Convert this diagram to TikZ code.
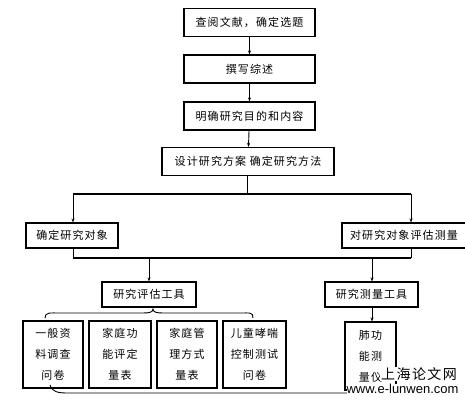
\documentclass[tikz,border=0pt]{standalone}
\usepackage{fontspec}
\newfontfamily\cjk[LetterSpace=10]{Noto Sans CJK SC}
\newfontfamily\wm{Liberation Sans}
\usetikzlibrary{arrows.meta}
\begin{document}
\begin{tikzpicture}[x=1pt,y=-1pt,
  box/.style={draw,line width=1.1pt,minimum height=28pt,inner sep=0pt,font=\cjk\fontsize{11}{13}\selectfont},
  tall/.style={draw,line width=1.1pt,minimum height=67pt,inner sep=0pt,align=center,font=\cjk\fontsize{11}{21}\selectfont},
  conn/.style={line width=0.9pt,-{Stealth[length=4pt,width=3pt]}},
  bar/.style={line width=1.6pt},
  plain/.style={line width=0.9pt}]
\useasboundingbox (0,0) rectangle (465,401);
\node[box,minimum width=131pt] (b1) at (249.5,22.5) {查阅文献，确定选题};
\node[box,minimum width=131pt] (b2) at (249.5,69) {撰写综述};
\node[box,minimum width=131pt] (b3) at (249.5,116) {明确研究目的和内容};
\node[box,minimum width=172pt] (b4) at (248,161.5) {设计研究方案\ 确定研究方法};
\node[box,minimum width=92pt,minimum height=25pt] (b5) at (72,235.5) {确定研究对象};
\node[box,minimum width=124pt,minimum height=25pt] (b6) at (404,235.5) {对研究对象评估测量};
\node[box,minimum width=94pt,minimum height=25pt] (b7) at (149,294.5) {研究评估工具};
\node[box,minimum width=93pt,minimum height=25pt] (b8) at (371.5,294.5) {研究测量工具};
\node[tall,minimum width=60pt] (c1) at (53,354.5) {一般资\\料调查\\问卷};
\node[tall,minimum width=62pt] (c2) at (120,354.5) {家庭功\\能评定\\量表};
\node[tall,minimum width=60pt] (c3) at (187,354.5) {家庭管\\理方式\\量表};
\node[tall,minimum width=63pt] (c4) at (254.5,354.5) {儿童哮喘\\控制测试\\问卷};
\node[tall,minimum width=51pt,minimum height=68pt] (c5) at (370.5,356) {肺功\\能测\\量仪};
\coordinate (h1) at (247,194);
\coordinate (h1l) at (73,194);
\coordinate (h1r) at (411,194);
\coordinate (h2l) at (73,258);
\coordinate (h2r) at (411,258);
\coordinate (h2a) at (149,258);
\coordinate (h2b) at (372,258);
\draw[conn] (b1) -- (b2);
\draw[conn] (b2) -- (b3);
\draw[conn] (b3) -- (b4);
\draw[plain] (b4.south -| h1) -- (h1);
\draw[bar] (h1l) -- (h1r);
\draw[conn] (h1l) -- (h1l |- b5.north);
\draw[conn] (h1r) -- (h1r |- b6.north);
\draw[plain] (h2l |- b5.south) -- (h2l);
\draw[plain] (h2r |- b6.south) -- (h2r);
\draw[bar] (h2l) -- (h2r);
\draw[conn] (h2a) -- (b7);
\draw[conn] (h2b) -- (h2b |- b8.north);
\draw[conn] (b8.south -| h2b) -- (h2b |- c5.north);
% top brace
\coordinate (t1) at (45,318);
\coordinate (t2) at (153,309);
\coordinate (t3) at (253,318);
\draw[plain] (t1) .. controls (45,312) and (50,313) .. (60,313) -- (143,313) .. controls (150,313) and (153,312) .. (t2)
  .. controls (153,312) and (156,313) .. (163,313) -- (240,313) .. controls (250,313) and (253,312) .. (t3);
% bottom brace
\coordinate (u1) at (50,385);
\coordinate (u2) at (398,385);
\draw[plain] (u1) .. controls (52,392) and (58,393) .. (68,393) -- (380,393) .. controls (392,393) and (397,391) .. (u2);
% watermark
\node[fill=white,inner sep=1pt,font=\cjk\fontsize{14}{14}\selectfont] (wm1) at (419,374) {上海论文网};
\node[fill=white,inner sep=0pt,font=\wm\fontsize{13}{13}\selectfont] (wm2) at (402.5,389) {www.e-lunwen.com};
\end{tikzpicture}
\end{document}
